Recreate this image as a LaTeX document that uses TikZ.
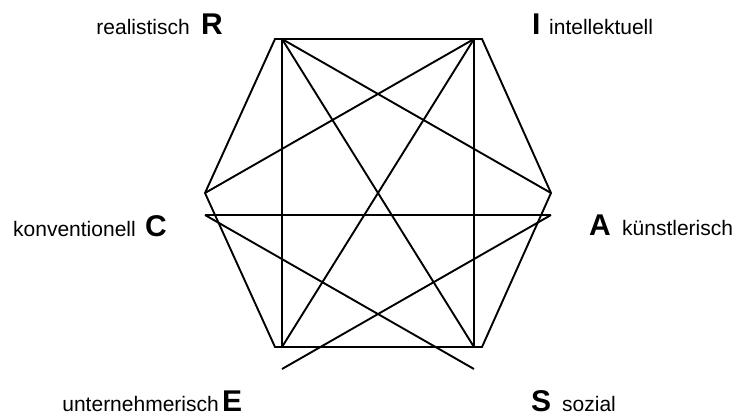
\documentclass[tikz,border=0pt]{standalone}
\usepackage{fontspec}
\setmainfont{Liberation Sans}
\begin{document}
\begin{tikzpicture}[x=1pt,y=-1pt,
  edge/.style={line width=1.9pt,line join=miter,black},
  small/.style={inner sep=0pt,font=\fontsize{21}{25}\selectfont},
  big/.style={inner sep=0pt,font=\fontsize{30}{35}\selectfont\bfseries}]
\useasboundingbox (0,0) rectangle (739,416);
% hexagon corners
\coordinate (hR) at (275,39);
\coordinate (hI) at (482,39);
\coordinate (hA) at (551,193);
\coordinate (hS) at (482,347);
\coordinate (hE) at (275,347);
\coordinate (hC) at (205,193);
% inner line points
\coordinate (pR) at (282,39);
\coordinate (pI) at (474,39);
\coordinate (pE) at (282,347);
\coordinate (pS) at (474,347);
\coordinate (pC) at (205,215);
\coordinate (pA) at (551,215);
\coordinate (qE) at (282,369);
\coordinate (qS) at (474,369);
\draw[edge] (hR) -- (hI) -- (hA) -- (hS) -- (hE) -- (hC) -- cycle;
\draw[edge] (pR) -- (pE);
\draw[edge] (pI) -- (pS);
\draw[edge] (pR) -- (hA);
\draw[edge] (pR) -- (pS);
\draw[edge] (pI) -- (hC);
\draw[edge] (pI) -- (pE);
\draw[edge] (pC) -- (pA);
\draw[edge] (pC) -- (qS);
\draw[edge] (pA) -- (qE);
% labels
\node[small,anchor=base east] (tR) at (190,34) {realistisch};
\node[big,anchor=base west] (lR) at (201,34) {R};
\node[big,anchor=base west] (lI) at (532,34) {I};
\node[small,anchor=base west] (tI) at (549,34) {intellektuell};
\node[small,anchor=base west] (tC) at (13,236) {konventionell};
\node[big,anchor=base west] (lC) at (145,236) {C};
\node[big,anchor=base west] (lA) at (589,235) {A};
\node[small,anchor=base west] (tA) at (622,235) {künstlerisch};
\node[small,anchor=base east] (tE) at (219,411) {unternehmerisch};
\node[big,anchor=base west] (lE) at (222,411) {E};
\node[big,anchor=base west] (lS) at (531,411) {S};
\node[small,anchor=base west] (tS) at (562,411) {sozial};
\end{tikzpicture}
\end{document}
